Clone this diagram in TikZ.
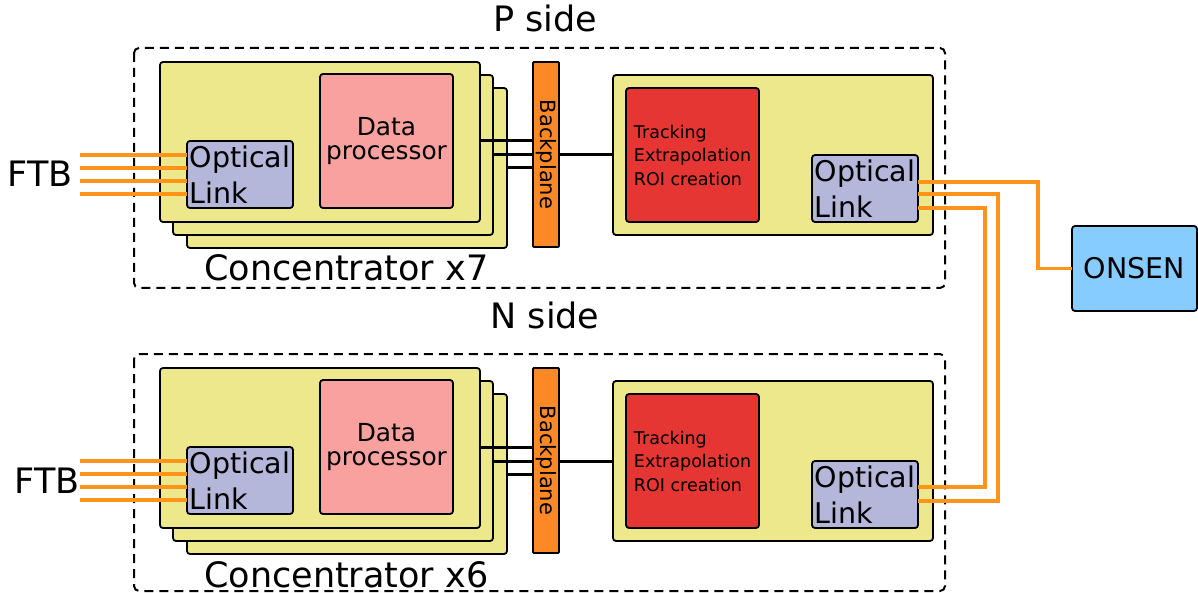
\documentclass[tikz,border=0pt]{standalone}
\usepackage{fontspec}
\setmainfont{DejaVu Sans}
\usetikzlibrary{positioning, calc}
\definecolor{cardyellow}{RGB}{238,232,140}
\definecolor{linkblue}{RGB}{180,182,218}
\definecolor{procpink}{RGB}{248,161,159}
\definecolor{trackred}{RGB}{230,54,52}
\definecolor{bporange}{RGB}{253,136,38}
\definecolor{fibreorange}{RGB}{255,148,26}
\definecolor{onsenblue}{RGB}{135,204,255}
\tikzset{
  box/.style={draw, line width=1.8pt, rounded corners=3pt, anchor=north west, inner sep=0pt, outer sep=0pt},
  card/.style={box, fill=cardyellow, minimum width=320pt, minimum height=160pt},
  olink/.style={box, fill=linkblue, minimum width=106pt, minimum height=67pt, align=left, font=\fontsize{28.5}{36}\selectfont},
  unit/.style={box, fill=#1, minimum width=133pt, minimum height=134pt},
  bplane/.style={box, rounded corners=1pt, fill=bporange, minimum width=26pt, minimum height=185pt},
  side/.style={draw, line width=2pt, dash pattern=on 9pt off 6pt, rounded corners=5pt},
  fibre/.style={fibreorange, line width=3.2pt},
  bus/.style={line width=3pt},
  big/.style={font=\fontsize{35}{40}\selectfont, inner sep=0pt, text depth=0pt},
}
\begin{document}
\begin{tikzpicture}[x=1pt, y=-1pt]
  \useasboundingbox (0,0) rectangle (1198,593);
  % one crate per side
  \foreach \s/\n/\dy/\ly/\fx/\bot in {P/7/0/32/40/288, N/6/306/22/47/285} {
    \begin{scope}[shift={(0,\dy)}]
      \draw[side] (134,48) rectangle (945,\bot);
      \node[big, anchor=base] (lbl\s) at (545,\ly) {\s\ side};
      \node[card] (c3\s) at (187,88) {};
      \node[card] (c2\s) at (173,75) {};
      \node[card] (c1\s) at (160,62) {};
      \node[olink] (oll\s) at (187,141) {Optical\\Link};
      \node[unit=procpink, align=center, font=\fontsize{24.8}{23.5}\selectfont] (dp\s) at (320,74) {Data\\processor};
      \node[big, anchor=base west] (cc\s) at (204,281) {Concentrator x\n};
      \node[big, anchor=base] (ftb\s) at (\fx,187) {FTB};
      \foreach \y in {14,27,40,53}
        \draw[fibre] ([yshift=-\y pt]oll\s.north west) -- ++(-107pt,0);
      \node[bplane] (bp\s) at (533,62) {};
      \node[rotate=-90, font=\fontsize{21}{21}\selectfont] (bpl\s) at (bp\s.center) {Backplane};
      \draw[bus] (c1\s.east |- 0,141) -- (bp\s.west |- 0,141);
      \draw[bus] (c2\s.east |- 0,155) -- (bp\s.west |- 0,155);
      \draw[bus] (c3\s.east |- 0,168) -- (bp\s.west |- 0,168);
      \node[card] (tc\s) at (613,75) {};
      \draw[bus] (bp\s.east |- 0,155) -- (tc\s.west |- 0,155);
      \node[unit=trackred, align=left, font=\fontsize{17.5}{23.5}\selectfont] (tr\s) at (626,88) {Tracking\\Extrapolation\\ROI creation};
      \node[olink] (olr\s) at (812,155) {Optical\\Link};
    \end{scope}
  }
  \node[box, fill=onsenblue, minimum width=125pt, minimum height=85pt, font=\fontsize{28.5}{34}\selectfont] (onsen) at (1072,226) {ONSEN};
  % fibres out of the track boards
  \draw[fibre] (olrP.east |- 0,182) -| ([xshift=-34pt]onsen.west) -- (onsen.west);
  \draw[fibre] (olrP.east |- 0,194) -| (998,501) -- (olrN.east |- 0,501);
  \draw[fibre] (olrP.east |- 0,208) -| (985,487) -- (olrN.east |- 0,487);
\end{tikzpicture}
\end{document}
